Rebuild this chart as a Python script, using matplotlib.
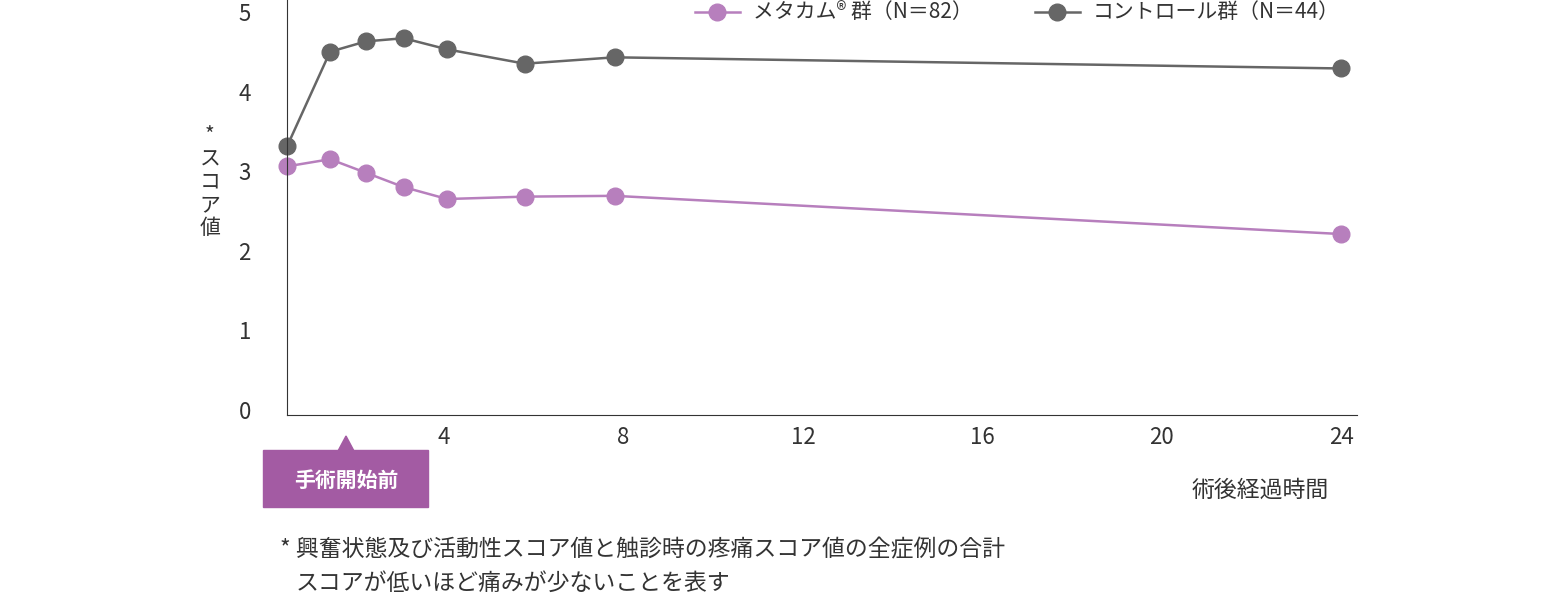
import matplotlib
matplotlib.use("Agg")
import matplotlib.pyplot as plt
from matplotlib.lines import Line2D
from matplotlib.patches import Polygon, Rectangle

plt.rcParams['font.family'] = ['Noto Sans CJK JP', 'DejaVu Sans']

x_vals = [0.5, 1.46, 2.26, 3.1, 4.07, 5.8, 7.8, 24]
metacam = [3.06, 3.15, 2.98, 2.80, 2.65, 2.68, 2.69, 2.21]
control = [3.31, 4.50, 4.63, 4.67, 4.53, 4.35, 4.43, 4.29]
xticks = [4, 8, 12, 16, 20, 24]
yticks = [0, 1, 2, 3, 4, 5]
purple = '#b77fbd'
gray = '#666666'

W, H = 1548, 595
fig = plt.figure(figsize=(W/100, H/100), dpi=100)
ax = fig.add_axes([287/W, 1-415/H, (1357-287)/W, 415/H])
ax.plot(x_vals, metacam, color=purple, marker='o', ms=12, lw=1.8, clip_on=False)
ax.plot(x_vals, control, color=gray, marker='o', ms=12, lw=1.8, clip_on=False)
ax.set_xlim(0.5, 24.35)
ax.set_ylim(-0.063, 5.15)
ax.set_xticks(xticks)
ax.set_yticks(yticks)
ax.tick_params(length=0, labelsize=16, colors='#333333', pad=8)
ax.tick_params(axis='y', pad=26)
for s in ['top', 'right']:
    ax.spines[s].set_visible(False)
for s in ['left', 'bottom']:
    ax.spines[s].set_color('#333333')

def fx(p): return p / W
def fy(p): return 1 - p / H

for x0, col, txt in [(695, purple, 'メタカム® 群（N＝82）'), (1035, gray, 'コントロール群（N＝44）')]:
    fig.add_artist(Line2D([fx(x0), fx(x0+45)], [fy(12), fy(12)], color=col, lw=1.8))
    fig.add_artist(Line2D([fx(x0+22)], [fy(12)], color=col, marker='o', ms=12))
    fig.text(fx(x0+58), fy(12), txt, fontsize=15, va='center', color='#333333')

fig.text(fx(210), fy(182), '*\nス\nコ\nア\n値', fontsize=15, ha='center', va='center',
         color='#333333', linespacing=1.05)

box = '#a35ba3'
fig.add_artist(Rectangle((fx(263), fy(507)), fx(428)-fx(263), fy(450)-fy(507), color=box))
fig.add_artist(Polygon([[fx(338), fy(451)], [fx(354), fy(451)], [fx(346), fy(436)]], color=box))
fig.text(fx(346), fy(480), '手術開始前', fontsize=15, color='white', weight='bold', ha='center', va='center')

fig.text(fx(1260), fy(490), '術後経過時間', fontsize=16.5, ha='center', va='center', color='#333333')
fig.text(fx(280), fy(550), '* 興奮状態及び活動性スコア値と触診時の疼痛スコア値の全症例の合計', fontsize=16.5,
         va='center', color='#333333')
fig.text(fx(296), fy(583), 'スコアが低いほど痛みが少ないことを表す', fontsize=16.5, va='center', color='#333333')

fig.savefig('out.png', dpi=100)
